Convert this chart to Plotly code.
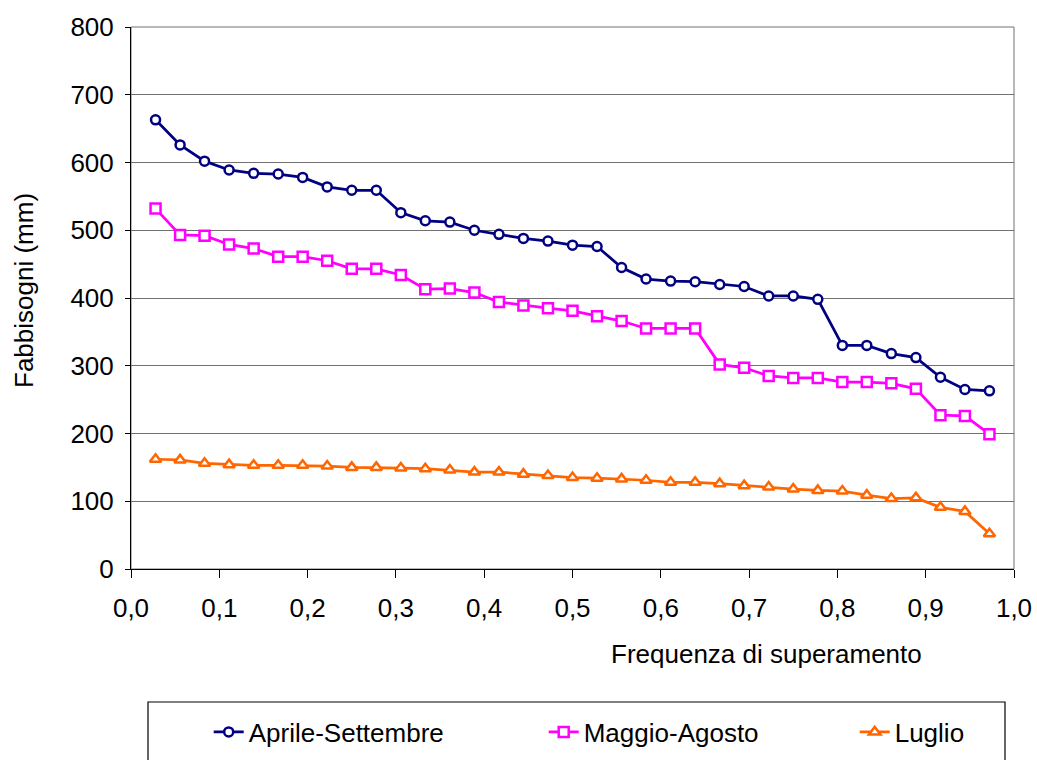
import plotly.graph_objects as go

freq = [0.0278, 0.0556, 0.0833, 0.1111, 0.1389, 0.1667, 0.1944, 0.2222, 0.25, 0.2778,
        0.3056, 0.3333, 0.3611, 0.3889, 0.4167, 0.4444, 0.4722, 0.5, 0.5278, 0.5556,
        0.5833, 0.6111, 0.6389, 0.6667, 0.6944, 0.7222, 0.75, 0.7778, 0.8056, 0.8333,
        0.8611, 0.8889, 0.9167, 0.9444, 0.9722]

aprile_settembre = [663, 626, 602, 589, 584, 583, 578, 564, 559, 559, 526, 514, 512, 500, 494,
                    488, 484, 478, 476, 445, 428, 425, 424, 420, 417, 403, 403, 398, 330, 330,
                    318, 312, 283, 265, 263]
maggio_agosto = [532, 493, 492, 479, 473, 461, 461, 455, 443, 443, 434, 413, 414, 408, 394,
                 389, 385, 381, 373, 366, 355, 355, 355, 302, 297, 285, 282, 282, 276, 276,
                 274, 266, 227, 226, 199]
luglio = [162, 161, 156, 154, 153, 153, 153, 152, 150, 150, 149, 148, 146, 143, 143, 140, 138,
          135, 134, 133, 131, 128, 128, 126, 123, 121, 118, 116, 115, 109, 104, 105, 91, 85, 52]

FONT = "Liberation Sans, Arial, sans-serif"
FS = 26

fig = go.Figure()
fig.add_trace(go.Scatter(x=freq, y=aprile_settembre, name="Aprile-Settembre", mode="lines+markers",
                         line=dict(color="#000080", width=2.75),
                         marker=dict(symbol="circle", size=9, color="white",
                                     line=dict(color="#000080", width=2.5)),
                         legendwidth=290))
fig.add_trace(go.Scatter(x=freq, y=maggio_agosto, name="Maggio-Agosto", mode="lines+markers",
                         line=dict(color="#FF00FF", width=2.75),
                         marker=dict(symbol="square", size=10, color="white",
                                     line=dict(color="#FF00FF", width=2.5)),
                         legendwidth=266))
fig.add_trace(go.Scatter(x=freq, y=luglio, name="Luglio", mode="lines+markers",
                         line=dict(color="#FF6600", width=2.75),
                         marker=dict(symbol="triangle-up", size=10, color="white",
                                     line=dict(color="#FF6600", width=2.5)),
                         legendwidth=90))

fig.update_layout(
    width=1037, height=760,
    margin=dict(l=131, r=23, t=27, b=191, autoexpand=False),
    paper_bgcolor="white", plot_bgcolor="white",
    separators=", ",
    font=dict(family=FONT, size=FS, color="black"),
    showlegend=True,
    legend=dict(orientation="h", x=0.088, xanchor="left", y=-0.3007, yanchor="middle",
                font=dict(family=FONT, size=FS, color="black"),
                bgcolor="rgba(0,0,0,0)", borderwidth=0),
    xaxis=dict(range=[0, 1], tickvals=[0, 0.1, 0.2, 0.3, 0.4, 0.5, 0.6, 0.7, 0.8, 0.9, 1.0],
               tickformat=".1f", showgrid=False, zeroline=False,
               showline=True, linecolor="black", linewidth=1,
               ticks="outside", ticklen=8, tickcolor="black", ticklabelstandoff=8,
               tickfont=dict(family=FONT, size=FS)),
    yaxis=dict(range=[0, 800], dtick=100, tickformat="d", showgrid=True,
               gridcolor="#707070", gridwidth=1, zeroline=False,
               showline=True, linecolor="black", linewidth=1,
               ticks="outside", ticklen=5, tickcolor="black", ticklabelstandoff=6,
               tickfont=dict(family=FONT, size=FS)),
    shapes=[
        dict(type="rect", xref="paper", yref="paper", x0=0, x1=1, y0=0, y1=1,
             line=dict(color="#707070", width=1), layer="below"),
        dict(type="rect", xref="paper", yref="paper", x0=0.01925, x1=0.9898, y0=-0.2454, y1=-0.37,
             line=dict(color="black", width=1.2)),
    ],
    annotations=[
        dict(text="Frequenza di superamento", xref="paper", yref="paper",
             x=(766 - 131) / 883, y=(569 - 654) / 542, xanchor="center", yanchor="middle",
             showarrow=False, font=dict(family=FONT, size=FS)),
        dict(text="Fabbisogni (mm)", xref="paper", yref="paper",
             x=(24 - 131) / 883, y=(569 - 291) / 542, xanchor="center", yanchor="middle",
             textangle=-90, showarrow=False, font=dict(family=FONT, size=FS)),
    ],
)

fig.write_html("out.html")
